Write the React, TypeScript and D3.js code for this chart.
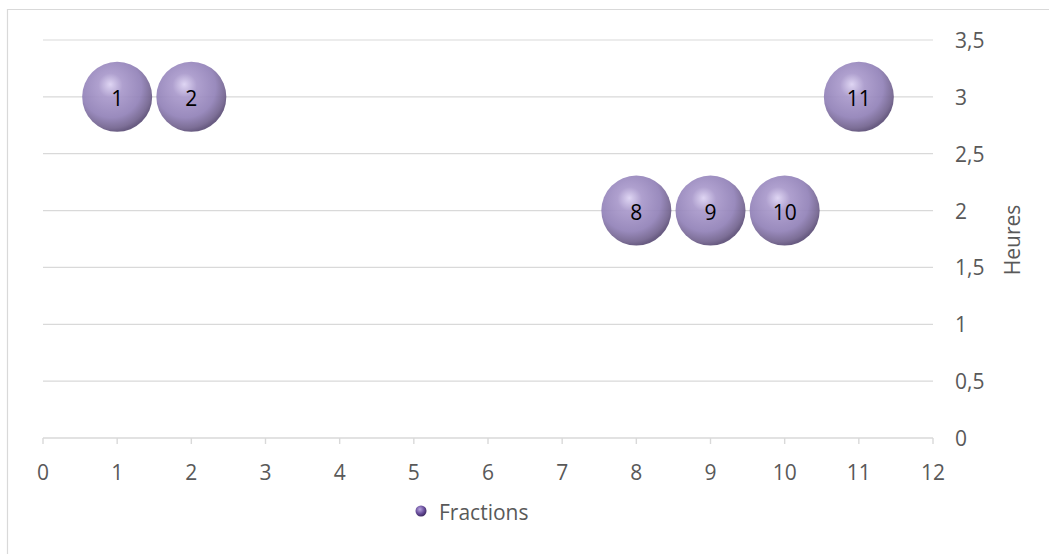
import React from "react";
import * as d3 from "d3";

// Fractions series: x = fraction number, y = hours, bubble label = x
const fractionX = [1, 2, 8, 9, 10, 11];
const hoursY = [3, 3, 2, 2, 2, 3];
const bubbleSize = [1, 1, 1, 1, 1, 1];

const xTicks = [0, 1, 2, 3, 4, 5, 6, 7, 8, 9, 10, 11, 12];
const yTicks = [0, 0.5, 1, 1.5, 2, 2.5, 3, 3.5];

const W = 1049;
const H = 554;
const FONT = "'Open Sans', 'Liberation Sans', sans-serif";
const TEXT = "#595959";
const GRID = "#d9d9d9";
const FS = 21;

export default function App() {
  const x = d3.scaleLinear().domain([0, 12]).range([43, 933]);
  const y = d3.scaleLinear().domain([0, 3.5]).range([438, 40]);
  const r = d3.scaleSqrt().domain([0, 1]).range([0, 35]);
  const fmt = (v: number) => String(v).replace(".", ",");

  return (
    <svg
      width={W}
      height={H}
      style={{ position: "absolute", left: 0, top: 0, fontFamily: FONT }}
    >
      <defs>
        <radialGradient id="sphere" cx="0.42" cy="0.38" r="0.62" fx="0.4" fy="0.32">
          <stop offset="0" stopColor="#dcd2f2" />
          <stop offset="0.28" stopColor="#a999cb" />
          <stop offset="0.7" stopColor="#9282b8" />
          <stop offset="0.92" stopColor="#73648f" />
          <stop offset="1" stopColor="#5e5079" />
        </radialGradient>
        <radialGradient id="legendDot" cx="0.4" cy="0.35" r="0.65">
          <stop offset="0" stopColor="#b8a6e0" />
          <stop offset="0.6" stopColor="#6a4f9c" />
          <stop offset="1" stopColor="#3e2a63" />
        </radialGradient>
      </defs>

      <rect x={0} y={0} width={W} height={H} fill="#fff" />
      {/* chart frame */}
      <path d={`M7.5,${H} V9.5 H${W}`} fill="none" stroke={GRID} strokeWidth={1.2} />

      {/* horizontal gridlines */}
      {yTicks.filter((t) => t > 0).map((t) => (
        <line key={t} x1={x(0)} x2={x(12)} y1={y(t)} y2={y(t)} stroke={GRID} strokeWidth={1.2} />
      ))}

      {/* x axis */}
      <line x1={x(0)} x2={x(12)} y1={y(0)} y2={y(0)} stroke={GRID} strokeWidth={1.4} />
      {xTicks.map((t) => (
        <g key={t}>
          <line x1={x(t)} x2={x(t)} y1={y(0)} y2={y(0) + 6} stroke={GRID} strokeWidth={1.4} />
          <text x={x(t)} y={y(0) + 34} textAnchor="middle" dominantBaseline="central" fontSize={FS} fill={TEXT}>
            {t}
          </text>
        </g>
      ))}

      {/* y axis labels (right side) */}
      {yTicks.map((t) => (
        <text key={t} x={955} y={y(t)} dominantBaseline="central" fontSize={FS} fill={TEXT}>
          {fmt(t)}
        </text>
      ))}
      <text
        transform={`translate(1012,240) rotate(-90)`}
        textAnchor="middle"
        dominantBaseline="central"
        fontSize={FS}
        fill={TEXT}
      >
        Heures
      </text>

      {/* bubbles */}
      {fractionX.map((fx, i) => (
        <g key={i}>
          <circle cx={x(fx)} cy={y(hoursY[i])} r={r(bubbleSize[i])} fill="url(#sphere)" opacity={0.93} />
          <text
            x={x(fx)}
            y={y(hoursY[i]) + 1}
            textAnchor="middle"
            dominantBaseline="central"
            fontSize={FS}
            fill="#000"
          >
            {fx}
          </text>
        </g>
      ))}

      {/* legend */}
      <circle cx={421} cy={511} r={5.5} fill="url(#legendDot)" />
      <text x={439} y={512} dominantBaseline="central" fontSize={FS} fill={TEXT}>
        Fractions
      </text>
    </svg>
  );
}
